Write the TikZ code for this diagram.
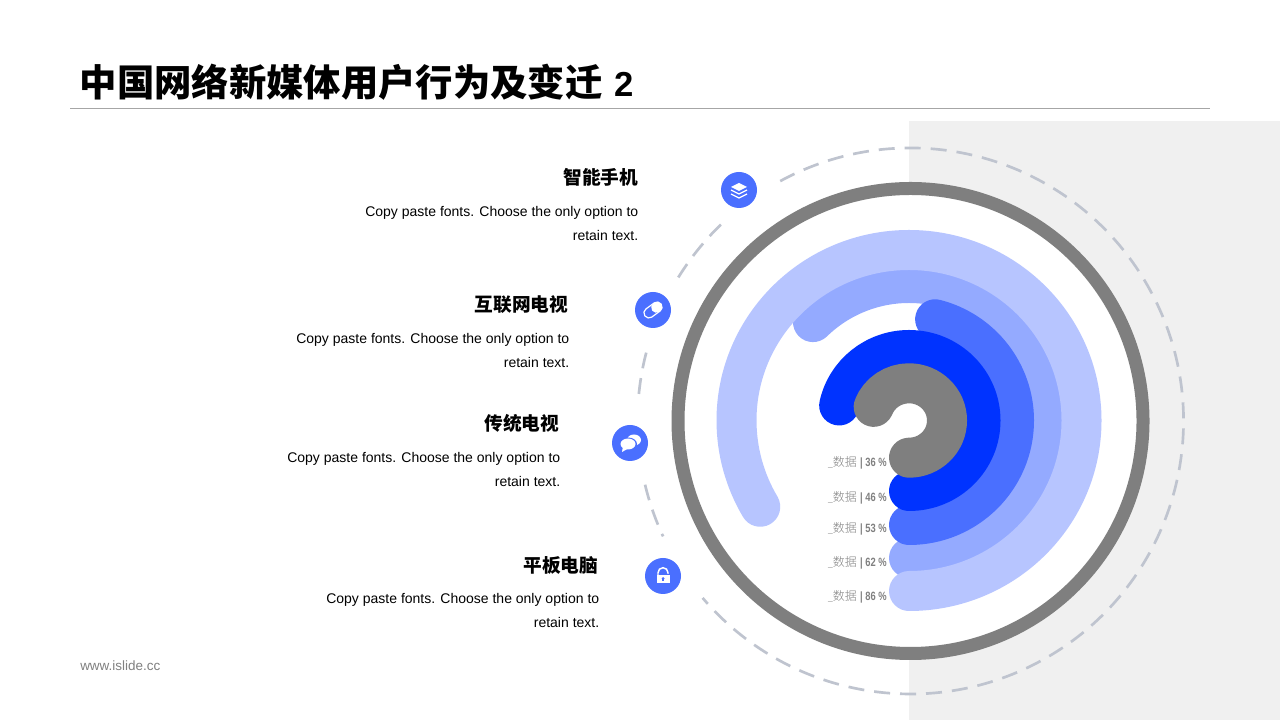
\documentclass[tikz,border=0pt]{standalone}
\usepackage{fontspec}
\usepackage{graphicx}
\setmainfont{Liberation Sans}
\newfontfamily\cjk{Noto Sans CJK SC}
\newfontfamily\cjklight{Noto Sans CJK SC Light}
\definecolor{ringgray}{HTML}{7F7F7F}
\definecolor{dashgray}{HTML}{BFC4CF}
\definecolor{panelgray}{HTML}{F0F0F0}
\definecolor{iconblue}{HTML}{4A6FFF}
\definecolor{arcA}{HTML}{B7C5FF}
\definecolor{arcB}{HTML}{94AAFF}
\definecolor{arcC}{HTML}{4A6FFF}
\definecolor{arcD}{HTML}{0033FF}
\tikzset{
    heading/.style={anchor=east, font=\cjk\bfseries\fontsize{14}{17}\selectfont},
    bodytext/.style={anchor=north east, align=right, inner sep=0pt, font=\fontsize{10.5}{18}\selectfont},
    icondisc/.style={circle, fill=iconblue, minimum size=27pt, inner sep=0pt},
    datalabel/.style={anchor=east, inner sep=0pt, text=gray, font=\fontsize{9}{10}\selectfont},
    dashring/.style={dashgray, line width=2pt, dash pattern=on 12pt off 7.5pt},
}
\newcommand{\datatext}[1]{\scalebox{.7}[1]{\textbf{\_}}{\cjklight 数据} \scalebox{.78}[1]{\textbf{| #1 \%}}}
\begin{document}
\begin{tikzpicture}[x=.75pt, y=.75pt]
    \useasboundingbox (0,0) rectangle (1280,720);
    \fill[white] (0,0) rectangle (1280,720);
    \fill[panelgray] (909,0) rectangle (1280,599);

    % title
    \node (title) [anchor=west, inner sep=0pt, font=\cjk\bfseries\fontsize{28}{32}\selectfont] at (79.5,638) {中国网络新媒体用户行为及变迁{\rmfamily\fontsize{26}{32}\selectfont\ \kern1.5pt 2}};
    \coordinate (ruleleft) at (70,611.5);
    \coordinate (ruleright) at (1210,611.5);
    \draw[gray!70, line width=.75pt] (ruleleft) -- (ruleright);
    \node (footer) [anchor=west, inner sep=0pt, text=gray, font=\fontsize{10.1}{11}\selectfont] at (80,54) {www.islide.cc};

    \coordinate (center) at (910.5,299);
    \coordinate (arccenter) at (909,299.5);

    % dashed circle
    \begin{scope}[shift={(center)}]
        \draw[dashring] (118.5:273) arc (118.5:-139.6:273);
        \draw[dashring] (134:273) arc (134:148.4:273);
        \draw[dashring] (165.5:273) arc (165.5:175:273);
        \draw[dashring] (193.5:273) arc (193.5:205:273);
    \end{scope}

    % outer ring
    \draw[ringgray, fill=white, line width=9.75pt] (center) circle (232.5);

    % data arcs, the second one lies under the first
    \begin{scope}[shift={(arccenter)}]
        \foreach \rx/\ry/\e/\c in {137.5/137.5/134.3/arcB, 172.5/170.5/210.4/arcA, 105/104.5/75.6/arcC, 71.5/70.5/167.7/arcD, 38/37.2/158.5/ringgray}
            \draw[\c, line width=30pt, line cap=round] (0,-\ry) arc[start angle=-90, end angle=\e, x radius=\rx, y radius=\ry];
    \end{scope}

    % data labels
    \node (labela) [datalabel] at (887,257) {\datatext{36}};
    \node (labelb) [datalabel] at (887,222) {\datatext{46}};
    \node (labelc) [datalabel] at (887,191) {\datatext{53}};
    \node (labeld) [datalabel] at (887,157) {\datatext{62}};
    \node (labele) [datalabel] at (887,123) {\datatext{86}};

    % text blocks
    \node (heada) [heading] at (643,543) {智能手机};
    \node (texta) [bodytext] at (638.5,514) {Copy paste fonts. Choose the only option to\\retain text.};
    \node (headb) [heading] at (573,415) {互联网电视};
    \node (textb) [bodytext] at (569.5,387) {Copy paste fonts. Choose the only option to\\retain text.};
    \node (headc) [heading] at (564,297) {传统电视};
    \node (textc) [bodytext] at (560.5,268) {Copy paste fonts. Choose the only option to\\retain text.};
    \node (headd) [heading] at (603,155) {平板电脑};
    \node (textd) [bodytext] at (599.5,127) {Copy paste fonts. Choose the only option to\\retain text.};

    % icons
    \node (icona) [icondisc] at (739,530) {};
    \node (iconb) [icondisc] at (653,410) {};
    \node (iconc) [icondisc] at (630,277) {};
    \node (icond) [icondisc] at (663,144) {};

    % layers
    \begin{scope}[shift={(icona)}]
        \foreach \y in {-5,-1}
            \draw[white, line width=.9pt] (-8,\y+1) -- (0,\y-3) -- (8,\y+1);
        \fill[white] (-8,3) -- (0,7) -- (8,3) -- (0,-1) -- cycle;
    \end{scope}
    % pill
    \begin{scope}[shift={(iconb)}, rotate=36]
        \draw[white, line width=.9pt, rounded corners=3.6pt] (-10,-5) rectangle (10,5);
        \fill[white, rounded corners=3.6pt] (-1,-5) rectangle (10,5);
    \end{scope}
    % speech bubbles
    \begin{scope}[shift={(iconc)}]
        \fill[white] (4,3) ellipse (7 and 5.5);
        \fill[iconblue] (-2,-1) ellipse (9 and 6.5);
        \fill[white] (-2,-1) ellipse (7.5 and 5.5);
        \fill[white] (-7,-3) -- (-8,-9) -- (-1,-5) -- cycle;
    \end{scope}
    % lock
    \begin{scope}[shift={(icond)}]
        \draw[white, line width=1.1pt] (-5,1) -- (-5,3.3) arc (180:0:5) -- (5,2);
        \fill[white] (-6.5,-7) rectangle (6.5,1);
        \fill[iconblue] (0,-2.5) circle (1.5);
        \fill[iconblue] (-.7,-5) rectangle (.7,-2.5);
    \end{scope}
\end{tikzpicture}
\end{document}
